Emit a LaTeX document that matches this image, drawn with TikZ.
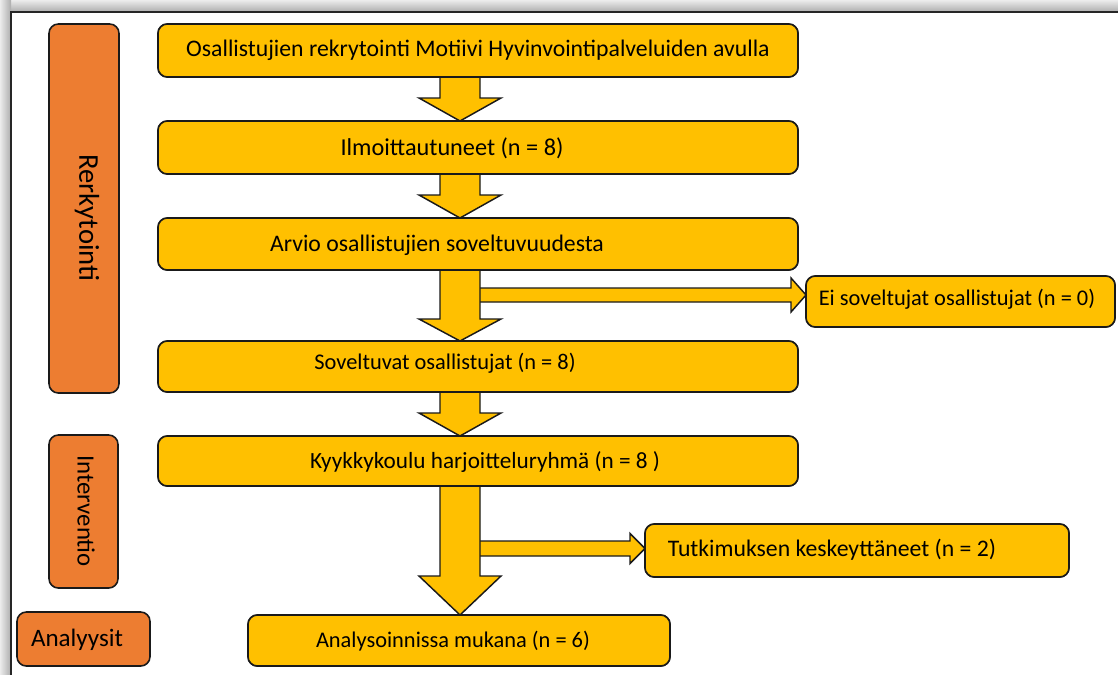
\documentclass[tikz,border=0pt]{standalone}
\usepackage{fontspec}
\setmainfont{Carlito}
\usetikzlibrary{calc}
\definecolor{boxyellow}{HTML}{FFC000}
\definecolor{boxorange}{HTML}{ED7D31}
\definecolor{edgecol}{HTML}{1A1A1A}
\newcommand\fs[1]{\fontsize{#1}{#1}\selectfont}
\begin{document}
\begin{tikzpicture}[x=0.75pt,y=-0.75pt,
  ybox/.style={draw=edgecol, fill=boxyellow, line width=1.2pt, rounded corners=7pt, inner sep=0pt, outer sep=0pt, anchor=north west},
  obox/.style={draw=edgecol, fill=boxorange, line width=1.2pt, rounded corners=7pt, inner sep=0pt, outer sep=0pt, anchor=north west},
  lbl/.style={inner sep=0pt, anchor=center, text=black},
  barrow/.style={draw=edgecol, fill=boxyellow, line width=1.1pt, line join=miter}]
\useasboundingbox (0,0) rectangle (1118,675);
\fill[white] (0,0) rectangle (1118,675);
% page shadow and edge
\shade[top color=gray!15, bottom color=gray!65] (0,0) rectangle (1118,12);
\shade[left color=gray!15, right color=gray!65] (0,0) rectangle (11,675);
\draw[line width=1pt, black!85] (11,675) -- (11,12) -- (1118,12);

% axis of the arrows
\coordinate (ax) at (460,0);

% boxes (nodes, drawn later on top of arrows via named positions)
\path
  node[ybox, minimum width=480pt, minimum height=39.75pt] (b1) at (158,24) {}
  node[ybox, minimum width=480pt, minimum height=39.75pt] (b2) at (158,121) {}
  node[ybox, minimum width=480pt, minimum height=39pt] (b3) at (158,218) {}
  node[ybox, minimum width=480pt, minimum height=38.25pt] (b4) at (158,341) {}
  node[ybox, minimum width=480pt, minimum height=37.5pt] (b5) at (158,436) {}
  node[ybox, minimum width=316.5pt, minimum height=38.25pt] (b6) at (248,615) {}
  node[ybox, minimum width=231.75pt, minimum height=38.25pt] (ei) at (806,276) {}
  node[ybox, minimum width=318pt, minimum height=39.75pt] (tut) at (645,524) {};

% side arrows
\coordinate (s3) at (478,295);
\coordinate (e3) at (s3 -| ei.west);
\draw[barrow] ($(s3)+(0,-7)$) -- ($(e3)+(-15,-7)$) -- ($(e3)+(-15,-17)$) -- (e3)
  -- ($(e3)+(-15,17)$) -- ($(e3)+(-15,7)$) -- ($(s3)+(0,7)$);
\coordinate (s5) at (478,548.5);
\coordinate (e5) at (s5 -| tut.west);
\draw[barrow] ($(s5)+(0,-7.5)$) -- ($(e5)+(-15,-7.5)$) -- ($(e5)+(-15,-15)$) -- (e5)
  -- ($(e5)+(-15,15)$) -- ($(e5)+(-15,7.5)$) -- ($(s5)+(0,7.5)$);

% down block arrows
\newcommand\blockdown[3]{%
  \coordinate (bs) at (#1 -| ax);
  \coordinate (be) at (#2 -| ax);
  \draw[barrow] ($(bs)+(-20,0)$) -- ($(be)+(-20,-#3)$) -- ($(be)+(-41,-#3)$) -- (be)
    -- ($(be)+(41,-#3)$) -- ($(be)+(20,-#3)$) -- ($(bs)+(20,0)$);}
\blockdown{b1.south}{b2.north}{23}
\blockdown{b2.south}{b3.north}{23}
\blockdown{b3.south}{b4.north}{22}
\blockdown{b4.south}{b5.north}{23}
\blockdown{b5.south}{b6.north}{39}

% redraw boxes on top
\foreach \n in {b1,b2,b3,b4,b5,b6,ei,tut}{
  \draw[draw=edgecol, fill=boxyellow, line width=1.2pt, rounded corners=7pt]
    (\n.north west) rectangle (\n.south east);
}

% orange side boxes
\node[obox, minimum width=52.5pt, minimum height=276.75pt] (rek) at (49,24) {};
\node[obox, minimum width=51.75pt, minimum height=114.75pt] (int) at (49,435) {};
\node[obox, minimum width=99.75pt, minimum height=40.5pt] (ana) at (17,612) {};

% texts
\node[lbl, font=\fs{17.8pt}] (t1) at (478,50) {Osallistujien rekrytointi Motiivi Hyvinvointipalveluiden avulla};
\node[lbl, font=\fs{18.2pt}] (t2) at (452,148) {Ilmoittautuneet (n = 8)};
\node[lbl, font=\fs{17.8pt}] (t3) at (437,245) {Arvio osallistujien soveltuvuudesta};
\node[lbl, font=\fs{16.8pt}] (t4) at (445,363) {Soveltuvat osallistujat (n = 8)};
\node[lbl, font=\fs{17.4pt}] (t5) at (485,462) {Kyykkykoulu harjoitteluryhmä (n = 8 )};
\node[lbl, font=\fs{16.8pt}] (t6) at (453,641) {Analysoinnissa mukana (n = 6)};
\node[lbl, font=\fs{16.8pt}] (tei) at (957,299) {Ei soveltujat osallistujat (n = 0)};
\node[lbl, font=\fs{17.8pt}] (ttut) at (832,550) {Tutkimuksen keskeyttäneet (n = 2)};
\node[lbl, font=\fs{21.5pt}, rotate=-90] (trek) at (87,218) {Rerkytointi};
\node[lbl, font=\fs{18.6pt}, rotate=-90] (tint) at (86,511) {Interventio};
\node[lbl, font=\fs{18.8pt}] (tana) at (77,640) {Analyysit};
\end{tikzpicture}
\end{document}
